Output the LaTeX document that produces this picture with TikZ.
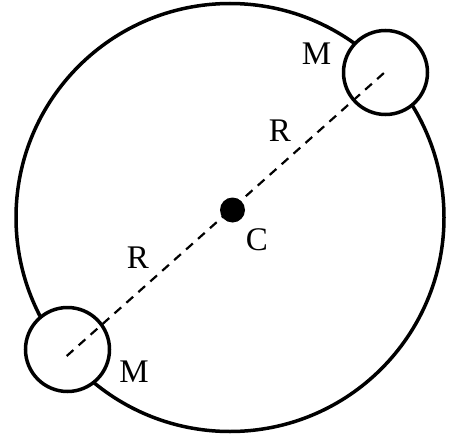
\documentclass[tikz,border=0pt]{standalone}
\usepackage{fontspec}
\setmainfont{Liberation Serif}
\begin{document}
\begin{tikzpicture}[x=1pt, y=-1pt, line width=3.5pt,
  ring/.style={circle, draw, inner sep=0pt, minimum size=428pt},
  mass/.style={circle, draw, fill=white, inner sep=0pt, minimum size=84pt},
  lbl/.style={font=\fontsize{33}{33}\selectfont, inner sep=0pt},
  rod/.style={line width=2.2pt, dash pattern=on 9pt off 7pt}]
\useasboundingbox (0,0) rectangle (450,439);

\node[ring] (W) at (230,217.5) {};
\node[mass] (M1) at (385.5,72.5) {};
\node[mass] (M2) at (67.5,349.5) {};
\coordinate (top) at (386.5,70.7);
\coordinate (bot) at (66.7,356);
\draw[rod] (bot) -- (top);
\fill (232.5,210) circle (12.5pt) coordinate (C);

\node[lbl] (Ltop) at (316.5,54) {M};
\node[lbl] (Lbot) at (134,372) {M};
\node[lbl] (R1) at (280,131) {R};
\node[lbl] (R2) at (138,258) {R};
\node[lbl] (Lc) at (257,240) {C};
\end{tikzpicture}
\end{document}
